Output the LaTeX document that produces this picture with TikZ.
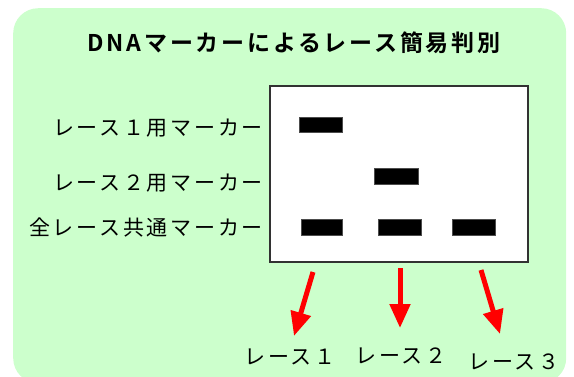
\documentclass[tikz,border=0pt]{standalone}
\usepackage{fontspec}
\usetikzlibrary{arrows.meta}
\newfontfamily\jpfont[LetterSpace=13]{Noto Sans CJK JP}
\newfontfamily\jpbold[LetterSpace=12,BoldFont={* Bold}]{Noto Sans CJK JP}
\definecolor{bggreen}{RGB}{204,255,204}
\definecolor{gelframe}{RGB}{50,50,50}
\definecolor{arrowred}{RGB}{255,0,0}
\tikzset{
  lbl/.style={inner sep=0pt, font=\jpfont\fontsize{21}{21}\selectfont, text=black},
  band/.style={fill=black, draw=gray!60!black, line width=0.6pt},
  redarrow/.style={draw=arrowred, line width=5pt, -{Triangle[length=24pt,width=20pt]}},
}
\begin{document}
\begin{tikzpicture}[x=1pt,y=-1pt]
\useasboundingbox (0,0) rectangle (574,376);
\begin{scope}
\clip (0,0) rectangle (574,376);
\node[fill=bggreen, rounded corners=25pt, minimum width=553pt, minimum height=375pt, inner sep=0pt, anchor=north west] (bg) at (13,8) {};
\end{scope}
\node[inner sep=0pt, font=\jpbold\bfseries\fontsize{23}{23}\selectfont] (title) at (294,43) {DNAマーカーによるレース簡易判別};
\node[fill=white, draw=gelframe, line width=1.5pt, minimum width=258pt, minimum height=176pt, inner sep=0pt, anchor=north west] (gel) at (269,85) {};
% bands
\node[band, minimum width=43pt, minimum height=15pt, inner sep=0pt] (b1) at (320.5,124.5) {};
\node[band, minimum width=44pt, minimum height=16pt, inner sep=0pt] (b2) at (396,176) {};
\node[band, minimum width=41pt, minimum height=16pt, inner sep=0pt] (c1) at (321.5,227) {};
\node[band, minimum width=43pt, minimum height=16pt, inner sep=0pt] (c2) at (399.5,227) {};
\node[band, minimum width=43pt, minimum height=16pt, inner sep=0pt] (c3) at (473.5,227) {};
% labels
\node[lbl, anchor=east] (l1) at (263,128) {レース１用マーカー};
\node[lbl, anchor=east] (l2) at (263,183) {レース２用マーカー};
\node[lbl, anchor=east] (l3) at (263,228) {全レース共通マーカー};
% arrows
\coordinate (a1s) at (313,272);
\coordinate (a1e) at (294,336);
\coordinate (a2s) at (400,268);
\coordinate (a2e) at (400,328);
\coordinate (a3s) at (481,270);
\coordinate (a3e) at (500,334);
\draw[redarrow] (a1s) -- (a1e);
\draw[redarrow] (a2s) -- (a2e);
\draw[redarrow] (a3s) -- (a3e);
% lane labels
\node[lbl] (r1) at (290,357) {レース１};
\node[lbl] (r2) at (401,356) {レース２};
\node[lbl] (r3) at (514,362) {レース３};
\end{tikzpicture}
\end{document}
